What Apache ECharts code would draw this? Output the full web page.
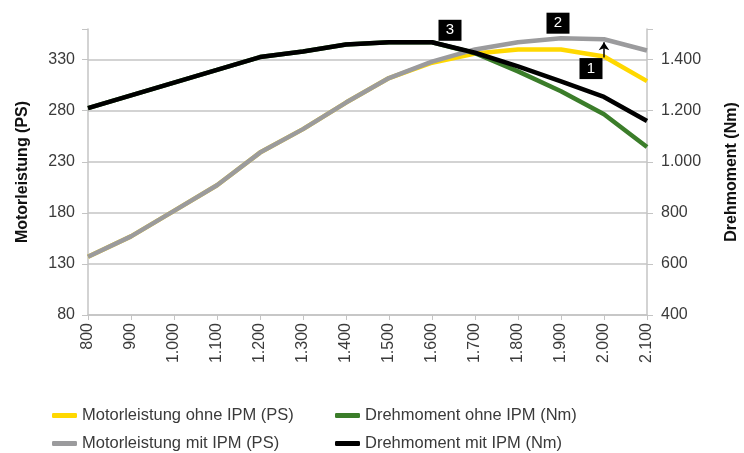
<!DOCTYPE html>
<html>
<head>
<meta charset="utf-8">
<script src="https://cdn.jsdelivr.net/npm/echarts@6/dist/echarts.min.js"></script>
<style>
  html, body { margin: 0; padding: 0; background: #fff; }
  #chart { width: 744px; height: 453px; }
</style>
</head>
<body>
<div id="chart"></div>
<script>
// Drehzahl (1/min)
const categories = ['800','900','1.000','1.100','1.200','1.300','1.400','1.500','1.600','1.700','1.800','1.900','2.000','2.100'];
// PS, linke Achse
const motorOhne = [137,157,182,207,239,262,288,312,327,336,340,340,333,309];
const motorMit  = [137,157,182,207,239,262,288,312,328,340,347,351,350,339];
// Nm, rechte Achse
const drehOhne = [1210,1260,1310,1360,1410,1432,1459,1468,1468,1425,1354,1276,1186,1058];
const drehMit  = [1210,1260,1310,1360,1410,1432,1459,1468,1468,1427,1374,1315,1254,1160];

const leftTicks = [80,130,180,230,280,330];
const rightTicks = [400,600,800,1000,1200,1400];

const FONT = 'Liberation Sans';
const gridColor = '#c4c4c4';
const textColor = '#3a3a3a';

function fmtThousand(v) {
  return String(v).replace(/\B(?=(\d{3})+(?!\d))/g, '.');
}

// kleine schwarze Kästchen mit Nummer
function badge(name, coord, offset) {
  return {
    name: name,
    coord: coord,
    symbol: 'rect',
    symbolSize: [23, 21],
    symbolOffset: offset,
    itemStyle: { color: '#000' },
    label: { show: true, formatter: name, color: '#fff', fontSize: 15, fontFamily: FONT }
  };
}

// je Eintrag eine eigene Legende (2 Spalten x 2 Zeilen)
function legendItem(name, left, top) {
  return {
    data: [name],
    left: left, top: top,
    icon: 'roundRect', itemWidth: 25, itemHeight: 5, itemGap: 4,
    textStyle: { color: textColor, fontSize: 16.5, fontFamily: FONT }
  };
}

const chart = echarts.init(document.getElementById('chart'));
const options = {
  animation: false,
  textStyle: { fontFamily: FONT },
  grid: { left: 88, right: 97, top: 29, bottom: 138, outerBoundsMode: 'none', containLabel: false },
  legend: [
    legendItem('Motorleistung ohne IPM (PS)', 47, 402),
    legendItem('Motorleistung mit IPM (PS)', 47, 430),
    legendItem('Drehmoment ohne IPM (Nm)', 330, 402),
    legendItem('Drehmoment mit IPM (Nm)', 330, 430)
  ],
  xAxis: {
    type: 'category',
    data: categories,
    boundaryGap: false,
    axisLine: { lineStyle: { color: gridColor, width: 1.5 } },
    axisTick: { show: true, length: 5, lineStyle: { color: gridColor } },
    axisLabel: { rotate: 90, color: textColor, fontSize: 16, margin: 8, fontFamily: FONT },
    splitLine: { show: false }
  },
  yAxis: [
    {
      type: 'value',
      name: 'Motorleistung (PS)',
      nameLocation: 'middle',
      nameGap: 57,
      nameTextStyle: { fontWeight: 'bold', fontSize: 16, color: '#111', fontFamily: FONT },
      min: 80, max: 360, interval: 50,
      position: 'left',
      axisLine: { show: true, lineStyle: { color: gridColor, width: 1.5 } },
      axisTick: { show: true, length: 6, lineStyle: { color: gridColor } },
      axisLabel: {
        color: textColor, fontSize: 16, margin: 13, fontFamily: FONT,
        formatter: v => leftTicks.indexOf(v) >= 0 ? String(v) : ''
      },
      splitLine: {
        show: true,
        lineStyle: { color: [gridColor, gridColor, gridColor, gridColor, gridColor, gridColor, 'rgba(0,0,0,0)'], width: 1.5 }
      }
    },
    {
      type: 'value',
      name: 'Drehmoment (Nm)',
      nameLocation: 'middle',
      nameGap: 77,
      nameRotate: 90,
      nameTextStyle: { fontWeight: 'bold', fontSize: 16, color: '#111', fontFamily: FONT },
      min: 400, max: 1520, interval: 200,
      position: 'right',
      axisLine: { show: true, lineStyle: { color: gridColor, width: 1.5 } },
      axisTick: { show: true, length: 6, lineStyle: { color: gridColor } },
      axisLabel: {
        color: textColor, fontSize: 16, margin: 14, fontFamily: FONT,
        formatter: v => rightTicks.indexOf(v) >= 0 ? fmtThousand(v) : ''
      },
      splitLine: { show: false }
    }
  ],
  series: [
    {
      name: 'Motorleistung ohne IPM (PS)',
      type: 'line', yAxisIndex: 0, data: motorOhne,
      symbol: 'none', z: 2,
      itemStyle: { color: '#ffd800' },
      lineStyle: { color: '#ffd800', width: 4.5 },
      markPoint: { silent: true, z: 10, data: [badge('1', ['2.000', 333], [-13, 12])] }
    },
    {
      name: 'Drehmoment ohne IPM (Nm)',
      type: 'line', yAxisIndex: 1, data: drehOhne,
      symbol: 'none', z: 3,
      itemStyle: { color: '#3b7d2a' },
      lineStyle: { color: '#3b7d2a', width: 4.5 }
    },
    {
      name: 'Motorleistung mit IPM (PS)',
      type: 'line', yAxisIndex: 0, data: motorMit,
      symbol: 'none', z: 4,
      itemStyle: { color: '#9b9b9d' },
      lineStyle: { color: '#9b9b9d', width: 4.5 },
      markPoint: { silent: true, z: 10, data: [badge('2', ['1.900', 351], [-3, -15])] },
      markLine: {
        silent: true,
        symbol: ['none', 'arrow'],
        symbolSize: 8,
        label: { show: false },
        lineStyle: { color: '#000', width: 1.5, type: 'solid' },
        data: [[{ coord: ['2.000', 332] }, { coord: ['2.000', 347] }]]
      }
    },
    {
      name: 'Drehmoment mit IPM (Nm)',
      type: 'line', yAxisIndex: 1, data: drehMit,
      symbol: 'none', z: 5,
      itemStyle: { color: '#000' },
      lineStyle: { color: '#000', width: 4.5 },
      markPoint: { silent: true, z: 10, data: [badge('3', ['1.600', 1468], [18, -12])] }
    }
  ]
};
chart.setOption(options);
</script>
</body>
</html>
